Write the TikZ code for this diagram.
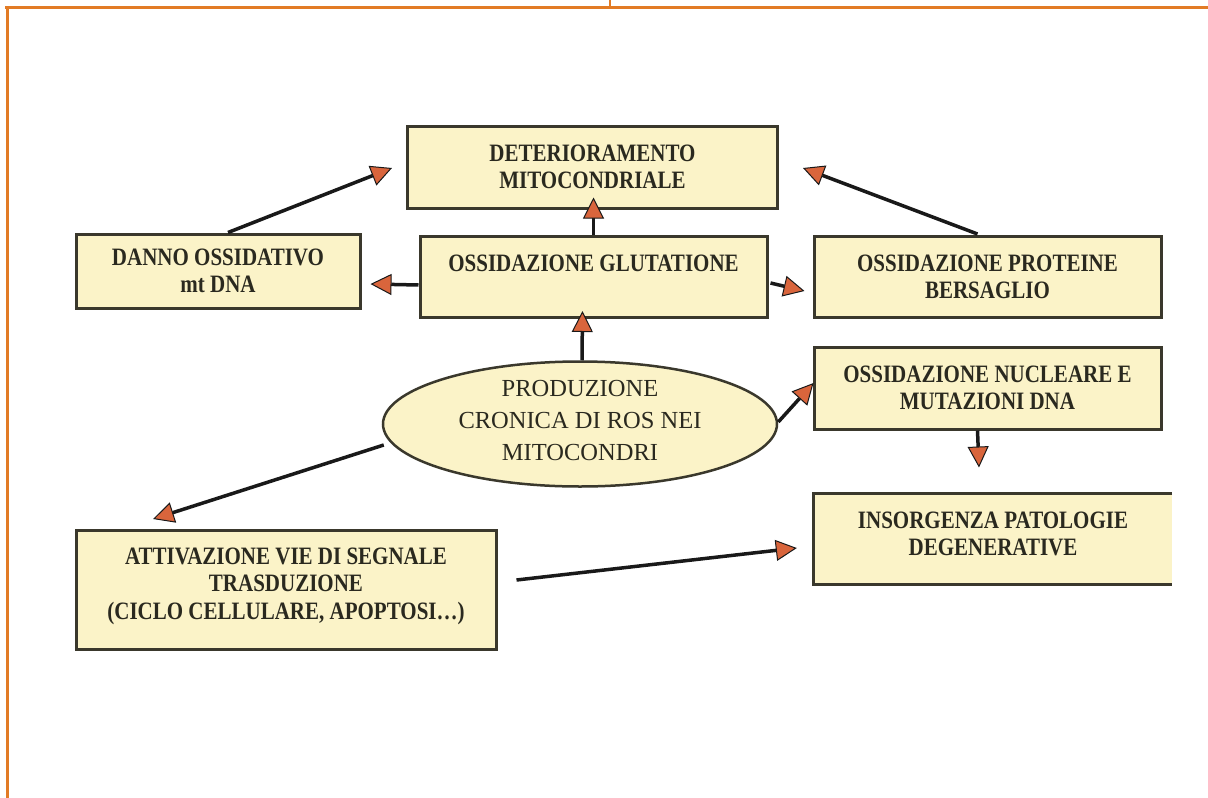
\documentclass[tikz,border=0pt]{standalone}
\usepackage{fontspec}
\setmainfont{Liberation Serif}
\newfontfamily\boxfont{Liberation Serif}[FakeStretch=0.84]
\usetikzlibrary{arrows.meta,shapes.geometric,calc}
\definecolor{frameor}{HTML}{E27B25}
\definecolor{boxfill}{HTML}{FBF3C8}
\definecolor{boxline}{HTML}{3A382C}
\definecolor{tipfill}{HTML}{D9653C}
\definecolor{txt}{HTML}{2A291F}
\begin{document}
\begin{tikzpicture}[x=1pt,y=-1pt,
  frame/.style={draw=frameor,line width=3pt},
  box/.style={draw=boxline,line width=3pt,fill=boxfill,inner sep=0pt,align=center,
    font=\boxfont\bfseries\fontsize{25}{27.5}\selectfont,text=txt},
  plainbox/.style={fill=boxfill,inner sep=0pt,align=center,
    font=\boxfont\bfseries\fontsize{25}{27.5}\selectfont,text=txt},
  ellbox/.style={ellipse,draw=boxline,line width=2.5pt,fill=boxfill,inner sep=0pt},
  elltext/.style={align=center,inner sep=0pt,font=\fontsize{24.5}{32}\selectfont,text=txt},
  conn/.style={line width=3.5pt,draw=black!90,
    -{Triangle[length=21pt,width=21pt,fill=tipfill,line width=1pt]}}
]
\useasboundingbox (0,0) rectangle (1208,798);
\fill[white] (0,0) rectangle (1208,798);
% frame
\draw[frame] (5,7.5) -- (1208,7.5);
\draw[frame] (7.5,6) -- (7.5,798);
\draw[draw=frameor,line width=1.5pt] (610,0) -- (610,7);

% boxes
\node[box,minimum width=370pt,minimum height=82pt] (det) at (592.5,167) {DETERIORAMENTO\\MITOCONDRIALE};
\node[box,minimum width=347pt,minimum height=81pt] (glu) at (593.5,277) {OSSIDAZIONE GLUTATIONE\\\mbox{}};
\node[box,minimum width=284pt,minimum height=74pt] (dan) at (218,271) {DANNO OSSIDATIVO\\mt DNA};
\node[box,minimum width=347pt,minimum height=81pt] (pro) at (987.5,277) {OSSIDAZIONE PROTEINE\\BERSAGLIO};
\node[box,minimum width=347pt,minimum height=82pt] (nuc) at (987.5,388) {OSSIDAZIONE NUCLEARE E\\MUTAZIONI DNA};
\node[plainbox,minimum width=358pt,minimum height=90pt] (ins) at (993,539) {};
\node[plainbox,fill=none] (inst) at (993,534) {INSORGENZA PATOLOGIE\\DEGENERATIVE};
\draw[draw=boxline,line width=3pt] (ins.north east) -- (ins.north west) -- (ins.south west) -- (ins.south east);
\node[box,minimum width=420pt,minimum height=119pt] (att) at (286,590) {};
\node[plainbox,fill=none] (attt) at (286,586) {ATTIVAZIONE VIE DI SEGNALE\\TRASDUZIONE\\(CICLO CELLULARE, APOPTOSI\ldots)};
\node[ellbox,minimum width=394pt,minimum height=125pt] (ell) at (580,424) {};
\node[elltext] (ellt) at (580,421) {PRODUZIONE\\CRONICA DI ROS NEI\\MITOCONDRI};

% connectors
\draw[conn] ($(dan.north)+(10,0)$) -- ($(det.west)+(-14,1)$);
\draw[conn] (glu.north) -- ($(det.south)+(1,-12)$);
\draw[conn] ($(glu.west)+(0,8)$) -- ($(dan.east)+(9,13)$);
\draw[conn] ($(glu.east)+(2,6)$) -- ($(pro.west)+(-8,14)$);
\draw[conn] ($(pro.north)+(-10,-1)$) -- ($(det.east)+(24,1)$);
\draw[conn] ($(ell.north)+(2,0)$) -- ($(glu.south)+(-11,-8)$);
\draw[conn] ($(ell.east)+(0,-2)$) -- ($(nuc.west)+(1,-5)$);
\draw[conn] ($(nuc.south)+(-10,0)$) -- ($(nuc.south)+(-8.5,37)$);
\draw[conn] ($(ell.west)+(2,21)$) -- ($(att.north)+(-133,-10)$);
\draw[conn] ($(att.east)+(19,-10)$) -- ($(ins.west)+(-17,9)$);
\end{tikzpicture}
\end{document}
